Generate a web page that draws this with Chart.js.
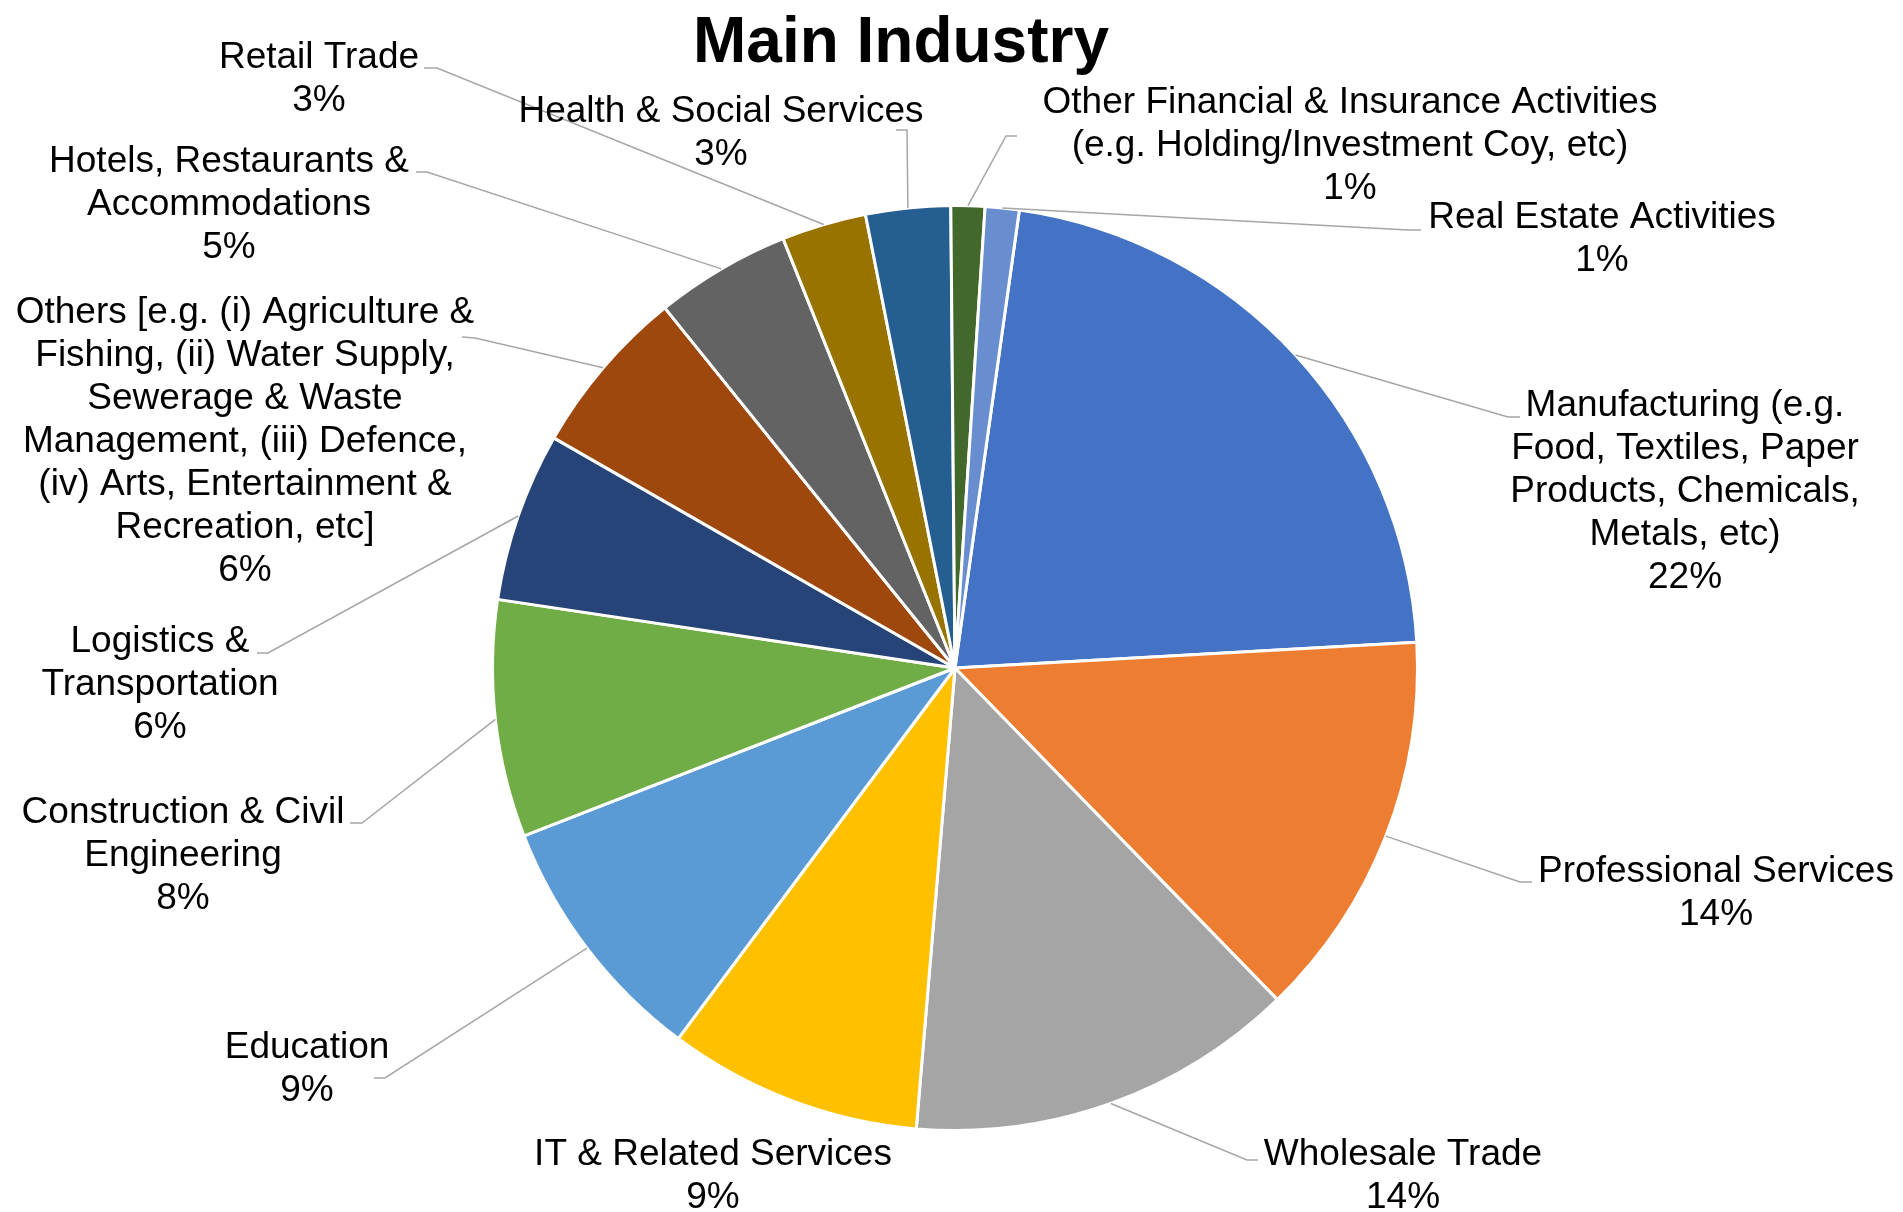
<!DOCTYPE html>
<html lang="en">

<head>
  <meta charset="UTF-8" />
  <title>Main Industry</title>
  <script src="https://cdn.jsdelivr.net/npm/chart.js"></script>
  <style>
    * {
      box-sizing: border-box;
      margin: 0;
      padding: 0
    }

    body {
      background: #fff;
      overflow: hidden
    }

    .wrap {
      position: relative;
      width: 1903px;
      height: 1212px
    }
  </style>
</head>

<body>
  <div class="wrap"><canvas id="grafico"></canvas></div>
  <script>
    // data
    const categories = [
      ['Manufacturing (e.g.', 'Food, Textiles, Paper', 'Products, Chemicals,', 'Metals, etc)'],
      ['Professional Services'],
      ['Wholesale Trade'],
      ['IT & Related Services'],
      ['Education'],
      ['Construction & Civil', 'Engineering'],
      ['Logistics &', 'Transportation'],
      ['Others [e.g. (i) Agriculture &', 'Fishing, (ii) Water Supply,', 'Sewerage & Waste', 'Management, (iii) Defence,', '(iv) Arts, Entertainment &', 'Recreation, etc]'],
      ['Hotels, Restaurants &', 'Accommodations'],
      ['Retail Trade'],
      ['Health & Social Services'],
      ['Other Financial & Insurance Activities', '(e.g. Holding/Investment Coy, etc)'],
      ['Real Estate Activities']
    ];
    const counts = [37, 23, 23, 15, 15, 14, 10, 10, 8, 5, 5, 2, 2];
    const colors = ['#4472C4', '#ED7D31', '#A5A5A5', '#FFC000', '#5B9BD5', '#70AD47', '#264478',
      '#9E480E', '#636363', '#997300', '#255E91', '#43682B', '#698ED0'];

    // label placement (x = text centre, y = first baseline, leader elbow + end)
    const labelLayout = [
      { x: 1685, y: 416, elbow: [1508, 417], end: [1520, 417] },
      { x: 1716, y: 882, elbow: [1520, 882], end: [1532, 882] },
      { x: 1403, y: 1165, elbow: [1247, 1160], end: [1258, 1160] },
      { x: 713, y: 1165 },
      { x: 307, y: 1058, elbow: [385, 1078], end: [374, 1078] },
      { x: 183, y: 823, elbow: [362, 823], end: [350, 823] },
      { x: 160, y: 652, elbow: [268, 653], end: [257, 653] },
      { x: 245, y: 323, elbow: [475, 338], end: [462, 337] },
      { x: 229, y: 172, elbow: [427, 172], end: [416, 172] },
      { x: 319, y: 68, elbow: [437, 68], end: [424, 68] },
      { x: 721, y: 122, elbow: [907, 130], end: [896, 130] },
      { x: 1350, y: 113, elbow: [1006, 136], end: [1017, 136] },
      { x: 1602, y: 228, elbow: [1408, 230], end: [1421, 230] }
    ];

    const FONT = '"Liberation Sans", Arial, Helvetica, sans-serif';

    const labelPlugin = {
      id: 'etiquetas',
      afterDraw(chart) {
        const ctx = chart.ctx;
        const arcs = chart.getDatasetMeta(0).data;
        const total = counts.reduce((a, b) => a + b, 0);
        ctx.save();
        ctx.strokeStyle = '#a6a6a6';
        ctx.lineWidth = 1.5;
        arcs.forEach((arc, i) => {
          const lay = labelLayout[i];
          if (!lay.elbow) return;
          const mid = (arc.startAngle + arc.endAngle) / 2;
          const r = arc.outerRadius;
          ctx.beginPath();
          ctx.moveTo(arc.x + Math.cos(mid) * r, arc.y + Math.sin(mid) * r);
          ctx.lineTo(lay.elbow[0], lay.elbow[1]);
          ctx.lineTo(lay.end[0], lay.end[1]);
          ctx.stroke();
        });

        ctx.fillStyle = '#000';
        ctx.textAlign = 'center';
        ctx.textBaseline = 'alphabetic';
        ctx.font = '37px ' + FONT;
        categories.forEach((lines, i) => {
          const lay = labelLayout[i];
          const pct = Math.round(counts[i] / total * 100) + '%';
          lines.concat(pct).forEach((t, k) => ctx.fillText(t, lay.x, lay.y + k * 43));
        });

        ctx.font = 'bold 64px ' + FONT;
        ctx.fillText('Main Industry', 901, 62);
        ctx.restore();
      }
    };

    new Chart(document.getElementById('grafico'), {
      type: 'pie',
      data: {
        labels: categories,
        datasets: [{
          data: counts,
          backgroundColor: colors,
          borderColor: '#fff',
          borderWidth: 3
        }]
      },
      options: {
        responsive: true,
        maintainAspectRatio: false,
        animation: false,
        rotation: 8,
        layout: { padding: { top: 204, bottom: 80, left: 491, right: 484 } },
        plugins: {
          legend: { display: false },
          tooltip: { enabled: false },
          title: { display: false }
        }
      },
      plugins: [labelPlugin]
    });
  </script>
</body>

</html>
